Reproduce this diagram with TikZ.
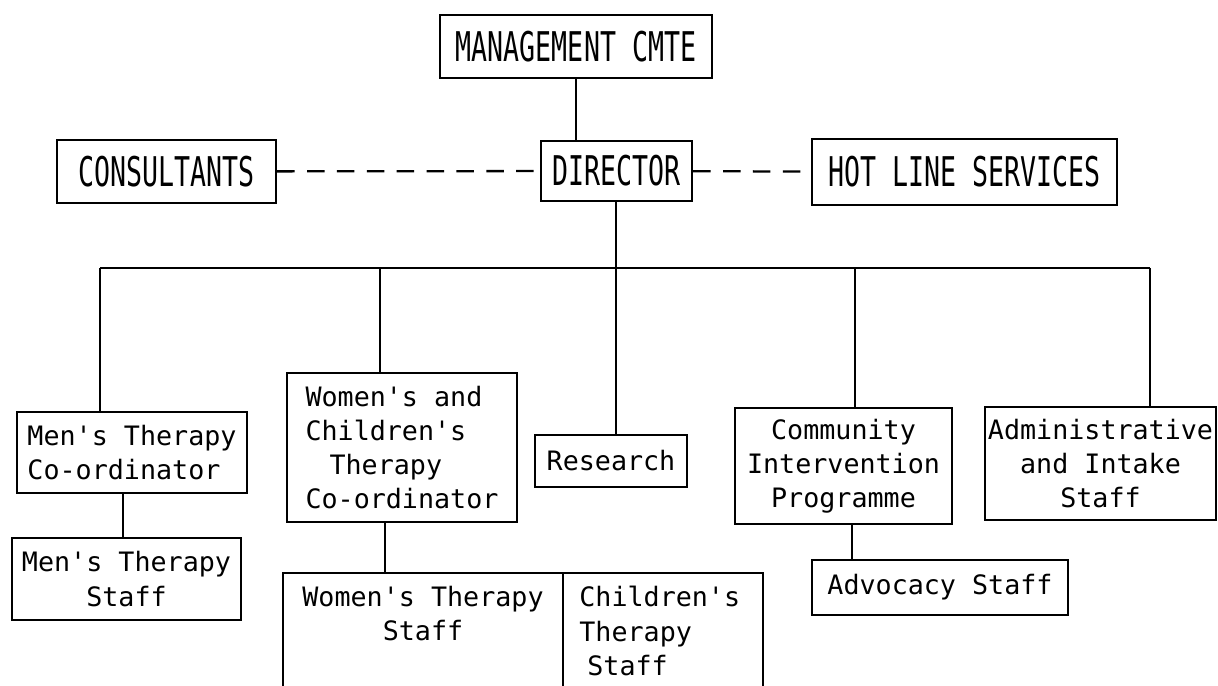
\documentclass[tikz,border=0pt]{standalone}
\usepackage{fontspec}
\setmonofont{DejaVu Sans Mono}
\newfontfamily\capsfont[FakeStretch=0.65]{DejaVu Sans Mono}
\tikzset{every node/.style={rectangle,draw=none,inner sep=0pt,font=\ttfamily\fontsize{15.2}{19.5}\selectfont}}
\tikzset{unit/.style={draw,line width=1.3pt,align=center}}
\tikzset{topunit/.style={unit,font=\capsfont\fontsize{23.3}{26}\selectfont}}
\tikzset{link/.style={line width=1.3pt}}
\tikzset{advice/.style={line width=1.3pt,dash pattern=on 10pt off 7pt}}

\begin{document}
\begin{tikzpicture}
      \useasboundingbox (0,0) rectangle (24.36,-13.72);
      % top of the chart
      \node[topunit,minimum width=5.44cm,minimum height=1.26cm] (mgmt) at (11.52,-0.93) {MANAGEMENT CMTE};
      \node[topunit,minimum width=3.02cm,minimum height=1.2cm] (dir) at (12.33,-3.42) {DIRECTOR};
      \node[topunit,minimum width=4.38cm,minimum height=1.26cm] (cons) at (3.33,-3.43) {CONSULTANTS};
      \node[topunit,minimum width=6.1cm,minimum height=1.32cm] (hot) at (19.29,-3.44) {HOT LINE SERVICES};
      % units
      \node[unit,align=left,minimum width=4.6cm,minimum height=1.62cm] (mencoord) at (2.64,-9.05) {Men's Therapy\\Co-ordinator};
      \node[unit,minimum width=4.58cm,minimum height=1.64cm] (menstaff) at (2.53,-11.58) {Men's Therapy\\Staff};
      \node[unit,align=left,minimum width=4.6cm,minimum height=2.98cm] (wccoord) at (8.04,-8.95) {Women's and\\Children's\\\hspace{0.9em}Therapy\\Co-ordinator};
      \node[unit,minimum width=3.04cm,minimum height=1.04cm] (res) at (12.22,-9.22) {Research};
      \node[unit,minimum width=4.34cm,minimum height=2.32cm] (cip) at (16.87,-9.32) {Community\\Intervention\\Programme};
      \node[unit,minimum width=4.62cm,minimum height=2.26cm] (admin) at (22.01,-9.27) {Administrative\\and Intake\\Staff};
      \node[unit,minimum width=5.12cm,minimum height=1.1cm] (advo) at (18.8,-11.75) {Advocacy Staff};
      \node[anchor=north,align=center] (womstaff) at (8.46,-11.72) {Women's Therapy\\Staff};
      \node[anchor=north west,align=left] (chistaff) at (11.58,-11.72) {Children's\\Therapy\\\hspace{0.3em}Staff};
      % bus line
      \coordinate (b1) at (2.0,-5.36);
      \coordinate (b2) at (7.6,-5.36);
      \coordinate (b3) at (12.32,-5.36);
      \coordinate (b4) at (17.1,-5.36);
      \coordinate (b5) at (23.0,-5.36);
      \coordinate (stafftop) at (7.7,-11.46);
        \draw[link] (mgmt.south) -- (mgmt.south |- dir.north);
        \draw[advice] (cons) -- (dir);
        \draw[advice] (dir) -- (hot);
        \draw[link] (dir.south -| b3) -- (b3);
        \draw[link] (b1) -- (b5);
        \draw[link] (b1) -- (b1 |- mencoord.north);
        \draw[link] (b2) -- (b2 |- wccoord.north);
        \draw[link] (b3) -- (b3 |- res.north);
        \draw[link] (b4) -- (b4 |- cip.north);
        \draw[link] (b5) -- (b5 |- admin.north);
        \draw[link] (2.46,0 |- mencoord.south) -- (2.46,0 |- menstaff.north);
        \draw[link] (17.04,0 |- cip.south) -- (17.04,0 |- advo.north);
        \draw[link] (stafftop |- wccoord.south) -- (stafftop);
        % open box of the therapy staff
        \draw[link] (5.66,-13.72) |- (15.26,-11.46) -- (15.26,-13.72);
        \draw[link] (11.26,-11.46) -- (11.26,-13.72);
\end{tikzpicture}
\end{document}
